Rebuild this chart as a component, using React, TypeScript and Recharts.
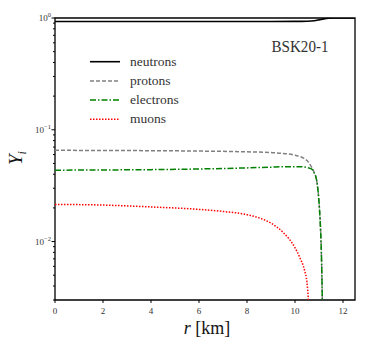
import { Legend, Line, LineChart, ReferenceArea, XAxis, YAxis } from "recharts"

const FONT = "'Liberation Serif', 'DejaVu Serif', serif"
const fontStyle = { fontFamily: FONT }

// radius grid (km) and particle fractions
const rNeutrons = [0, 2, 4, 6, 8, 9, 10, 10.5, 10.8, 11.0, 11.2, 11.4, 11.6, 12, 12.5]
const yNeutrons = [0.93, 0.93, 0.93, 0.93, 0.931, 0.931, 0.932, 0.936, 0.945, 0.962, 0.982, 0.995, 0.999, 1, 1]

const rCharged = [0, 2, 4, 6, 8, 9, 9.5, 10, 10.3, 10.5, 10.7, 10.8, 10.9, 11.0, 11.05, 11.09, 11.12, 11.15]
const yProtons = [0.0655, 0.0653, 0.065, 0.0645, 0.0635, 0.0625, 0.0614, 0.0593, 0.0565, 0.053, 0.046, 0.0415, 0.0355, 0.0225, 0.015, 0.0092, 0.005, 0.002]
const yElectrons = [0.0435, 0.0437, 0.044, 0.0446, 0.0456, 0.0463, 0.0467, 0.0468, 0.0466, 0.046, 0.0445, 0.041, 0.0355, 0.0225, 0.015, 0.0092, 0.005, 0.002]

const rMuons = [0, 2, 4, 6, 7, 8, 8.5, 9, 9.5, 10, 10.2, 10.4, 10.5, 10.56, 10.6]
const yMuons = [0.0215, 0.0212, 0.0204, 0.0194, 0.0186, 0.0174, 0.0163, 0.0146, 0.0121, 0.0088, 0.0072, 0.0055, 0.0043, 0.003, 0.0022]

const xTicks = [0, 2, 4, 6, 8, 10, 12]
const yMajorTicks = [0.01, 0.1, 1]
const yMinorTicks = [0.003, 0.004, 0.005, 0.006, 0.007, 0.008, 0.009, 0.02, 0.03, 0.04, 0.05, 0.06, 0.07, 0.08, 0.09, 0.2, 0.3, 0.4, 0.5, 0.6, 0.7, 0.8, 0.9]
const yMajorLabels = ["\u22122", "\u22121", "0"]

const neutrons = rNeutrons.map((r, i) => ({ r, y: yNeutrons[i] }))
const protons = rCharged.map((r, i) => ({ r, y: yProtons[i] }))
const electrons = rCharged.map((r, i) => ({ r, y: yElectrons[i] }))
const muons = rMuons.map((r, i) => ({ r, y: yMuons[i] }))

const series = [
  { name: "neutrons", data: neutrons, color: "#000000", dash: undefined, width: 1.6 },
  { name: "protons", data: protons, color: "#808080", dash: "4 2", width: 1.5 },
  { name: "electrons", data: electrons, color: "#008000", dash: "6 2 1.5 2", width: 1.5 },
  { name: "muons", data: muons, color: "#ff0000", dash: "1.5 1.5", width: 1.5 },
]

const YTick = ({ x, y, payload }: any) => {
  const idx = yMajorTicks.indexOf(payload.value)
  const major = idx >= 0
  return (
    <g>
      <line x1={x - (major ? 3.5 : 2)} x2={x} y1={y} y2={y} stroke="#000" strokeWidth={1} />
      {major && (
        <text x={x - 4} y={y + 3} textAnchor="end" fontSize={9} fill="#333" style={fontStyle}>
          10
          <tspan dy={-4} fontSize={6.5}>
            {yMajorLabels[idx]}
          </tspan>
        </text>
      )}
    </g>
  )
}

const XTick = ({ x, y, payload }: any) => (
  <g>
    <line x1={x} x2={x} y1={y} y2={y + 3} stroke="#000" strokeWidth={1} />
    <text x={x} y={y + 13.5} textAnchor="middle" fontSize={9} fill="#333" style={fontStyle}>
      {payload.value}
    </text>
  </g>
)

const XLabel = ({ viewBox }: any) => (
  <text x={viewBox.x + viewBox.width / 2 + 2} y={viewBox.y + 34} textAnchor="middle" fontSize={18} fill="#111" style={fontStyle}>
    <tspan fontStyle="italic">r</tspan> [km]
  </text>
)

const YLabel = ({ viewBox }: any) => {
  const cx = 22
  const cy = viewBox.y + viewBox.height / 2 - 1
  return (
    <text x={cx} y={cy} transform={`rotate(-90, ${cx}, ${cy})`} textAnchor="middle" fontSize={19} fill="#111" style={fontStyle}>
      <tspan fontStyle="italic">Y</tspan>
      <tspan fontStyle="italic" fontSize={12} dy={4}>
        i
      </tspan>
    </text>
  )
}

const renderLegend = () => (
  <svg width={130} height={80} style={{ display: "block" }}>
    {series.map((s, i) => {
      const cy = 11.7 + i * 19.2
      return (
        <g key={s.name}>
          <line x1={5} x2={35} y1={cy} y2={cy} stroke={s.color} strokeWidth={s.width} strokeDasharray={s.dash} />
          <text x={45} y={cy + 4} fontSize={13.5} fill="#333" style={fontStyle}>
            {s.name}
          </text>
        </g>
      )
    })}
  </svg>
)

export default function App() {
  return (
    <div style={{ position: "absolute", left: 0, top: 0, width: 374, height: 354, background: "#fff", fontFamily: FONT }}>
      <LineChart width={374} height={354} margin={{ top: 18, right: 19, bottom: 24, left: 10 }}>
        <XAxis
          dataKey="r"
          type="number"
          domain={[0, 12.5]}
          ticks={xTicks}
          interval={0}
          allowDataOverflow
          axisLine={false}
          tickLine={false}
          tickSize={0}
          tickMargin={0}
          tick={<XTick />}
          height={30}
          label={<XLabel />}
        />
        <YAxis
          dataKey="y"
          scale="log"
          type="number"
          domain={[0.003, 1]}
          ticks={[...yMinorTicks, ...yMajorTicks]}
          interval={0}
          allowDataOverflow
          axisLine={false}
          tickLine={false}
          tickSize={0}
          tickMargin={0}
          tick={<YTick />}
          width={45}
          label={<YLabel />}
        />
        <ReferenceArea
          x1={0}
          x2={12.5}
          y1={0.003}
          y2={1}
          fill="none"
          stroke="#000"
          strokeWidth={1.3}
          ifOverflow="visible"
        />
        {series.map((s) => (
          <Line
            key={s.name}
            data={s.data}
            dataKey="y"
            name={s.name}
            type="monotone"
            stroke={s.color}
            strokeWidth={s.width}
            strokeDasharray={s.dash}
            dot={false}
            activeDot={false}
            isAnimationActive={false}
          />
        ))}
        <Legend
          layout="horizontal"
          verticalAlign="middle"
          align="center"
          content={renderLegend}
          wrapperStyle={{ left: 85, top: 50, width: 130, height: 80 }}
        />
        <text x={300} y={52} textAnchor="middle" fontSize={17} fill="#333" style={fontStyle} textLength={57} lengthAdjust="spacingAndGlyphs">
          BSK20-1
        </text>
      </LineChart>
    </div>
  )
}
